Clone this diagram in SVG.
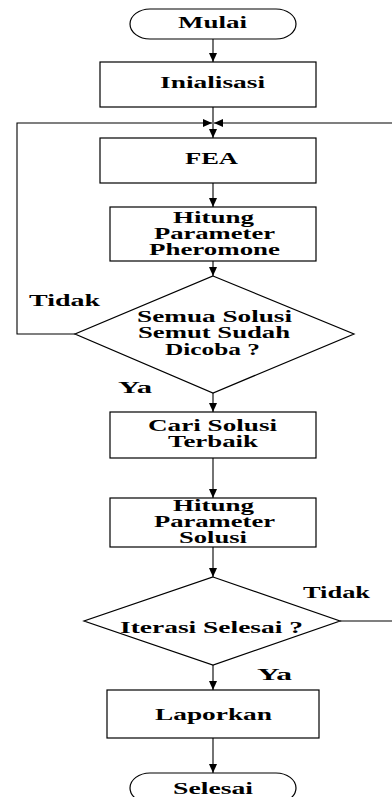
<svg xmlns="http://www.w3.org/2000/svg" width="392" height="797" viewBox="0 0 392 797">
<style>
.shape{fill:#fff;stroke:#000;stroke-width:1.2}
.t{font-family:"Liberation Serif","Times New Roman",serif;font-weight:bold;font-size:16px;fill:#000}
.c{fill:none;stroke:#000;stroke-width:1.1}
</style>
<defs>
<marker id="ah" markerUnits="userSpaceOnUse" markerWidth="10" markerHeight="8" refX="9" refY="4" orient="auto">
<path d="M0,0 L9,4 L0,8 z" fill="#000"/>
</marker>
</defs>
<rect width="392" height="797" fill="#fff"/>
<g id="connectors">
<path class="c" d="M213 39 V62" marker-end="url(#ah)"/>
<path class="c" d="M213 107 V138" marker-end="url(#ah)"/>
<path class="c" d="M75 334 H17 V123 H212" marker-end="url(#ah)"/>
<path class="c" d="M340 621 H396 V123 H214" marker-end="url(#ah)"/>
<path class="c" d="M213 183 V207" marker-end="url(#ah)"/>
<path class="c" d="M213 261 V276" marker-end="url(#ah)"/>
<path class="c" d="M213 393 V412" marker-end="url(#ah)"/>
<path class="c" d="M213 458 V498" marker-end="url(#ah)"/>
<path class="c" d="M213 547 V577" marker-end="url(#ah)"/>
<path class="c" d="M213 665 V690" marker-end="url(#ah)"/>
<path class="c" d="M213 738 V773" marker-end="url(#ah)"/>
<text class="t" x="29" y="306" textLength="71" lengthAdjust="spacingAndGlyphs">Tidak</text>
<text class="t" x="118" y="393" textLength="34" lengthAdjust="spacingAndGlyphs">Ya</text>
<text class="t" x="303" y="598" textLength="67" lengthAdjust="spacingAndGlyphs">Tidak</text>
<text class="t" x="257" y="680" textLength="35" lengthAdjust="spacingAndGlyphs">Ya</text>
</g>
<g id="mulai">
<rect class="shape" x="130" y="9" width="166" height="30" rx="20" ry="15"/>
<text class="t" x="178" y="28" textLength="69" lengthAdjust="spacingAndGlyphs">Mulai</text>
</g>
<g id="inialisasi">
<rect class="shape" x="100" y="62" width="216" height="45"/>
<text class="t" x="160" y="88" textLength="105" lengthAdjust="spacingAndGlyphs">Inialisasi</text>
</g>
<g id="fea">
<rect class="shape" x="100" y="138" width="216" height="45"/>
<text class="t" x="185" y="164" textLength="53" lengthAdjust="spacingAndGlyphs">FEA</text>
</g>
<g id="hitung-pheromone">
<rect class="shape" x="110" y="207" width="206" height="54"/>
<text class="t" x="173" y="223" textLength="81" lengthAdjust="spacingAndGlyphs">Hitung</text>
<text class="t" x="154" y="239" textLength="121" lengthAdjust="spacingAndGlyphs">Parameter</text>
<text class="t" x="149" y="255" textLength="131" lengthAdjust="spacingAndGlyphs">Pheromone</text>
</g>
<g id="cek-semut">
<polygon class="shape" points="213,276 354,334 213,393 75,334"/>
<text class="t" x="137" y="322" textLength="155" lengthAdjust="spacingAndGlyphs">Semua Solusi</text>
<text class="t" x="138" y="338" textLength="152" lengthAdjust="spacingAndGlyphs">Semut Sudah</text>
<text class="t" x="165" y="355" textLength="95" lengthAdjust="spacingAndGlyphs">Dicoba ?</text>
</g>
<g id="cari-solusi">
<rect class="shape" x="110" y="412" width="206" height="46"/>
<text class="t" x="148" y="431" textLength="129" lengthAdjust="spacingAndGlyphs">Cari Solusi</text>
<text class="t" x="168" y="447" textLength="90" lengthAdjust="spacingAndGlyphs">Terbaik</text>
</g>
<g id="hitung-solusi">
<rect class="shape" x="110" y="498" width="206" height="49"/>
<text class="t" x="173" y="511" textLength="81" lengthAdjust="spacingAndGlyphs">Hitung</text>
<text class="t" x="154" y="527" textLength="121" lengthAdjust="spacingAndGlyphs">Parameter</text>
<text class="t" x="179" y="543" textLength="68" lengthAdjust="spacingAndGlyphs">Solusi</text>
</g>
<g id="cek-iterasi">
<polygon class="shape" points="213,577 340,621 213,665 84,621"/>
<text class="t" x="120" y="633" textLength="183" lengthAdjust="spacingAndGlyphs">Iterasi Selesai ?</text>
</g>
<g id="laporkan">
<rect class="shape" x="107" y="690" width="212" height="48"/>
<text class="t" x="155" y="720" textLength="117" lengthAdjust="spacingAndGlyphs">Laporkan</text>
</g>
<g id="selesai">
<rect class="shape" x="130" y="773" width="166" height="30" rx="20" ry="15"/>
<text class="t" x="173" y="794" textLength="80" lengthAdjust="spacingAndGlyphs">Selesai</text>
</g>
</svg>
